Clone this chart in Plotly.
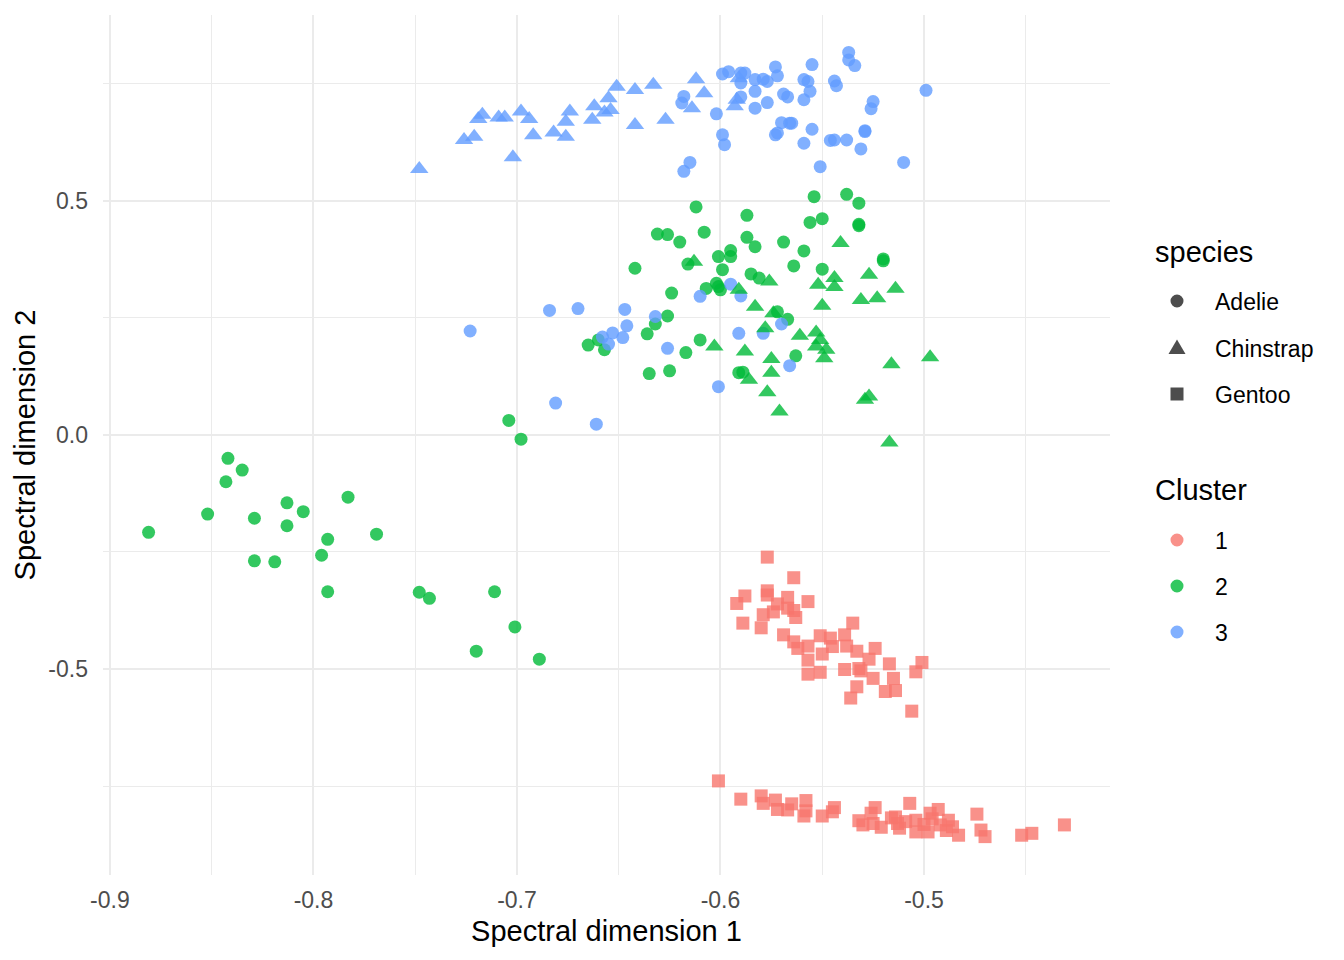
import plotly.graph_objects as go

# ---------------- data ----------------
# Cluster 3, Adelie (blue circles)
adelie_c3_x = [-0.618, -0.619, -0.602, -0.599, -0.596, -0.590, -0.588, -0.590, -0.583, -0.579,
               -0.577, -0.583, -0.590, -0.583, -0.577, -0.573, -0.572, -0.569, -0.567, -0.570,
               -0.573, -0.572, -0.566, -0.565, -0.555, -0.559, -0.557, -0.556, -0.559, -0.555,
               -0.559, -0.599, -0.598, -0.615, -0.618, -0.551, -0.537, -0.537, -0.534, -0.544,
               -0.543, -0.546, -0.544, -0.538, -0.531, -0.529, -0.529, -0.525, -0.526, -0.510,
               -0.499,
               -0.723, -0.684, -0.670, -0.647, -0.646, -0.648, -0.653, -0.658, -0.655, -0.632,
               -0.626, -0.610, -0.595, -0.601, -0.681, -0.661, -0.591, -0.590, -0.579, -0.570,
               -0.566]
adelie_c3_y = [0.723, 0.709, 0.686, 0.771, 0.776, 0.773, 0.773, 0.752, 0.759, 0.760,
               0.755, 0.734, 0.722, 0.698, 0.710, 0.786, 0.767, 0.728, 0.722, 0.667,
               0.641, 0.645, 0.666, 0.666, 0.791, 0.759, 0.755, 0.734, 0.716, 0.653,
               0.623, 0.641, 0.620, 0.582, 0.563, 0.573, 0.817, 0.801, 0.789, 0.756,
               0.746, 0.629, 0.630, 0.630, 0.611, 0.650, 0.648, 0.712, 0.697, 0.582,
               0.736,
               0.222, 0.266, 0.270, 0.268, 0.233, 0.208, 0.218, 0.209, 0.194, 0.253,
               0.185, 0.296, 0.322, 0.103, 0.068, 0.023, 0.217, 0.297, 0.217, 0.237,
               0.148]

# Cluster 3, Chinstrap (blue triangles)
chin_c3_x = [-0.748, -0.726, -0.721, -0.719, -0.717, -0.709, -0.706, -0.702, -0.698, -0.694,
             -0.692, -0.682, -0.676, -0.676, -0.674, -0.663, -0.662, -0.657, -0.654, -0.655,
             -0.651, -0.642, -0.642, -0.633, -0.627, -0.612, -0.614, -0.608, -0.592, -0.591,
             -0.593]
chin_c3_y = [0.568, 0.630, 0.637, 0.675, 0.684, 0.678, 0.678, 0.593, 0.691, 0.675,
             0.640, 0.646, 0.637, 0.669, 0.691, 0.673, 0.702, 0.689, 0.694, 0.719,
             0.744, 0.737, 0.662, 0.748, 0.673, 0.760, 0.698, 0.730, 0.716, 0.762,
             0.702]

# Cluster 2, Adelie (green circles)
adelie_c2_x = [-0.881, -0.852, -0.842, -0.835, -0.843, -0.829, -0.813, -0.805, -0.813, -0.829,
               -0.819, -0.783, -0.793, -0.796, -0.769, -0.748, -0.743, -0.711, -0.701, -0.720,
               -0.689, -0.704, -0.698, -0.793,
               -0.612, -0.631, -0.626, -0.620, -0.608, -0.616, -0.601, -0.595, -0.595, -0.599,
               -0.642, -0.607, -0.602, -0.601, -0.600, -0.624, -0.626, -0.632, -0.636, -0.610,
               -0.617, -0.635, -0.625, -0.660, -0.665, -0.657, -0.591, -0.554, -0.538, -0.532,
               -0.587, -0.556, -0.550, -0.532, -0.532, -0.587, -0.583, -0.569, -0.559, -0.564,
               -0.550, -0.520, -0.520, -0.585, -0.581, -0.572, -0.567, -0.563, -0.589]
adelie_c2_y = [-0.208, -0.169, -0.050, -0.075, -0.100, -0.178, -0.145, -0.164, -0.194, -0.269,
               -0.271, -0.133, -0.223, -0.257, -0.212, -0.336, -0.349, -0.335, -0.410, -0.462,
               -0.479, 0.031, -0.009, -0.335,
               0.487, 0.429, 0.428, 0.412, 0.433, 0.365, 0.381, 0.394, 0.381, 0.353,
               0.356, 0.313, 0.324, 0.317, 0.310, 0.303, 0.254, 0.237, 0.216, 0.203,
               0.176, 0.131, 0.137, 0.203, 0.192, 0.182, 0.133, 0.509, 0.514, 0.495,
               0.469, 0.454, 0.462, 0.450, 0.447, 0.422, 0.402, 0.412, 0.393, 0.361,
               0.354, 0.376, 0.372, 0.344, 0.335, 0.263, 0.247, 0.169, 0.134]

# Cluster 2, Chinstrap (green triangles)
chin_c2_x = [-0.613, -0.603, -0.591, -0.541, -0.576, -0.583, -0.552, -0.544, -0.544, -0.527,
             -0.514, -0.531, -0.523, -0.550, -0.574, -0.578, -0.561, -0.553, -0.551, -0.553,
             -0.548, -0.549, -0.588, -0.575, -0.575, -0.586, -0.577, -0.571, -0.516, -0.497,
             -0.527, -0.529, -0.517]
chin_c2_y = [0.370, 0.189, 0.310, 0.410, 0.328, 0.274, 0.321, 0.335, 0.316, 0.342,
             0.312, 0.288, 0.292, 0.276, 0.260, 0.228, 0.212, 0.219, 0.203, 0.189,
             0.182, 0.164, 0.178, 0.162, 0.133, 0.118, 0.091, 0.050, 0.151, 0.166,
             0.082, 0.075, -0.016]

# Cluster 1, Gentoo (red squares)
gentoo_c1_x = [-0.577, -0.564, -0.588, -0.592, -0.577, -0.577, -0.567, -0.572, -0.557, -0.579,
               -0.574, -0.567, -0.564, -0.563, -0.589, -0.580, -0.535, -0.569, -0.564, -0.562,
               -0.557, -0.551, -0.546, -0.545, -0.550, -0.539, -0.538, -0.533, -0.524, -0.527,
               -0.557, -0.557, -0.551, -0.539, -0.532, -0.531, -0.525, -0.517, -0.515, -0.519,
               -0.514, -0.533, -0.536, -0.501, -0.504, -0.506,
               -0.601, -0.590, -0.580, -0.579, -0.573, -0.572, -0.567, -0.565, -0.558, -0.558,
               -0.559, -0.550, -0.545, -0.544, -0.532, -0.530, -0.525, -0.524, -0.526, -0.516,
               -0.513, -0.512, -0.507, -0.509, -0.504, -0.504, -0.498, -0.497, -0.493, -0.492,
               -0.488, -0.486, -0.483, -0.474, -0.472, -0.470, -0.452, -0.447, -0.431,
               -0.521, -0.500, -0.489, -0.514, -0.496]
gentoo_c1_y = [-0.261, -0.305, -0.344, -0.360, -0.333, -0.342, -0.347, -0.361, -0.356, -0.384,
               -0.378, -0.370, -0.375, -0.390, -0.402, -0.412, -0.402, -0.427, -0.442, -0.456,
               -0.451, -0.429, -0.434, -0.452, -0.468, -0.427, -0.451, -0.462, -0.456, -0.479,
               -0.481, -0.511, -0.507, -0.501, -0.499, -0.504, -0.520, -0.489, -0.520, -0.548,
               -0.546, -0.538, -0.562, -0.486, -0.506, -0.590,
               -0.739, -0.778, -0.771, -0.787, -0.780, -0.800, -0.801, -0.788, -0.781, -0.803,
               -0.814, -0.814, -0.805, -0.796, -0.824, -0.833, -0.830, -0.796, -0.808, -0.818,
               -0.830, -0.840, -0.787, -0.826, -0.823, -0.848, -0.848, -0.808, -0.800, -0.833,
               -0.823, -0.837, -0.855, -0.810, -0.844, -0.858, -0.855, -0.851, -0.833,
               -0.838, -0.832, -0.845, -0.816, -0.820]

x_ticks = [-0.9, -0.8, -0.7, -0.6, -0.5]
x_tick_labels = ["-0.9", "-0.8", "-0.7", "-0.6", "-0.5"]
y_ticks = [-0.5, 0.0, 0.5]
y_tick_labels = ["-0.5", "0.0", "0.5"]

species_names = ["Adelie", "Chinstrap", "Gentoo"]
cluster_names = ["1", "2", "3"]

# ---------------- styling ----------------
RED = "#F8766D"
GREEN = "#00BA38"
BLUE = "#619CFF"
ALPHA = 0.8
MSIZE = 13
TSIZE = 16
FONT = "Liberation Sans, Arial, Helvetica, sans-serif"

fig = go.Figure()

def add_pts(x, y, color, symbol, size, name):
    fig.add_trace(go.Scatter(
        x=x, y=y, mode="markers", name=name, showlegend=False,
        marker=dict(color=color, symbol=symbol, size=size, opacity=ALPHA,
                    line=dict(width=0)),
    ))

add_pts(adelie_c2_x, adelie_c2_y, GREEN, "circle", MSIZE, "Adelie / 2")
add_pts(adelie_c3_x, adelie_c3_y, BLUE, "circle", MSIZE, "Adelie / 3")
add_pts(chin_c2_x, chin_c2_y, GREEN, "triangle-up", TSIZE, "Chinstrap / 2")
add_pts(chin_c3_x, chin_c3_y, BLUE, "triangle-up", TSIZE, "Chinstrap / 3")
add_pts(gentoo_c1_x, gentoo_c1_y, RED, "square", MSIZE, "Gentoo / 1")

# ---------------- layout ----------------
W, H = 1344, 960
L, R, T, B = 103, 1110, 15, 875  # plot area in pixels

GRID = "#EBEBEB"
fig.update_layout(
    width=W, height=H,
    margin=dict(l=L, r=W - R, t=T, b=H - B, pad=0),
    paper_bgcolor="white", plot_bgcolor="white",
    font=dict(family=FONT, color="black"),
    showlegend=False,
    xaxis=dict(
        range=[-0.9034, -0.4086], tickvals=x_ticks, ticktext=x_tick_labels,
        showgrid=True, gridcolor=GRID, gridwidth=2, zeroline=False, showline=False,
        ticks="", ticklabelstandoff=9,
        tickfont=dict(size=23, color="#4D4D4D", family=FONT),
        minor=dict(dtick=0.05, tick0=-0.9, showgrid=True, gridcolor=GRID, gridwidth=1),
        title=dict(text="Spectral dimension 1", font=dict(size=29, color="black", family=FONT),
                   standoff=8),
    ),
    yaxis=dict(
        range=[-0.940, 0.897], tickvals=y_ticks, ticktext=y_tick_labels,
        showgrid=True, gridcolor=GRID, gridwidth=2, zeroline=False, showline=False,
        ticks="", ticklabelstandoff=14,
        tickfont=dict(size=23, color="#4D4D4D", family=FONT),
        minor=dict(dtick=0.25, tick0=-0.75, showgrid=True, gridcolor=GRID, gridwidth=1),
        title=dict(text="Spectral dimension 2", font=dict(size=29, color="black", family=FONT),
                   standoff=4),
    ),
)

# ---------------- manual legend (ggplot-style, two guides) ----------------
def px_x(p):
    return (p - L) / (R - L)

def px_y(p):
    return (B - p) / (B - T)

SYM_X = 1177
LAB_X = 1213
TITLE_X = 1153

def legend_title(text, y):
    fig.add_annotation(text=text, xref="paper", yref="paper", x=px_x(TITLE_X), y=px_y(y),
                       xanchor="left", yanchor="middle", showarrow=False,
                       font=dict(size=29, color="black", family=FONT))

def legend_label(text, y):
    fig.add_annotation(text=text, xref="paper", yref="paper", x=px_x(LAB_X), y=px_y(y),
                       xanchor="left", yanchor="middle", showarrow=False,
                       font=dict(size=23, color="black", family=FONT))

KEY = "#4D4D4D"
species_rows = [301, 348, 394]
cluster_rows = [540, 586, 632]

legend_title("species", 252)
for name, yy in zip(species_names, species_rows):
    legend_label(name, yy + 1)
# circle
fig.add_shape(type="circle", xref="paper", yref="paper", xsizemode="pixel", ysizemode="pixel",
              xanchor=px_x(SYM_X), yanchor=px_y(species_rows[0]), x0=-6.5, x1=6.5, y0=-6.5, y1=6.5,
              fillcolor=KEY, line=dict(width=0))
# triangle
fig.add_shape(type="path", xref="paper", yref="paper", xsizemode="pixel", ysizemode="pixel",
              xanchor=px_x(SYM_X), yanchor=px_y(species_rows[1]),
              path="M -8.5,-6 L 8.5,-6 L 0,8.5 Z", fillcolor=KEY, line=dict(width=0))
# square
fig.add_shape(type="rect", xref="paper", yref="paper", xsizemode="pixel", ysizemode="pixel",
              xanchor=px_x(SYM_X), yanchor=px_y(species_rows[2]), x0=-6.5, x1=6.5, y0=-6.5, y1=6.5,
              fillcolor=KEY, line=dict(width=0))

legend_title("Cluster", 490)
for name, col, yy in zip(cluster_names, [RED, GREEN, BLUE], cluster_rows):
    legend_label(name, yy + 1)
    fig.add_shape(type="circle", xref="paper", yref="paper", xsizemode="pixel", ysizemode="pixel",
                  xanchor=px_x(SYM_X), yanchor=px_y(yy), x0=-6.5, x1=6.5, y0=-6.5, y1=6.5,
                  fillcolor=col, opacity=ALPHA, line=dict(width=0))

fig.write_html("out.html")
